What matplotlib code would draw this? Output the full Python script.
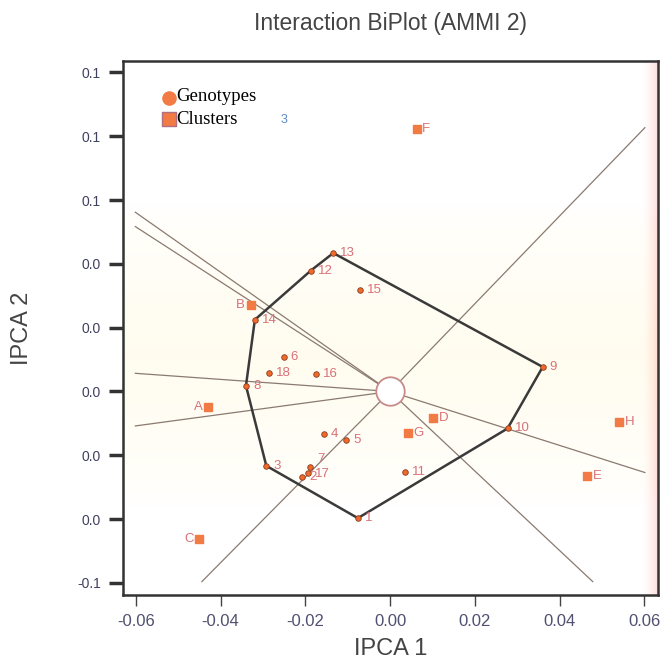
import numpy as np
import matplotlib.pyplot as plt

# genotype scores (IPCA1, IPCA2)
gen_labels = ['1', '2', '3', '4', '5', '6', '7', '8', '9', '10',
              '11', '12', '13', '14', '15', '16', '17', '18']
gen_x = [-0.0076, -0.0208, -0.0292, -0.0156, -0.0103, -0.0251, -0.0189, -0.0340, 0.0360, 0.0277,
         0.0035, -0.0187, -0.0134, -0.0319, -0.0070, -0.0174, -0.0194, -0.0285]
gen_y = [-0.0397, -0.0268, -0.0233, -0.0134, -0.0152, 0.0108, -0.0237, 0.0018, 0.0077, -0.0116,
         -0.0253, 0.0379, 0.0434, 0.0225, 0.0319, 0.0054, -0.0254, 0.0059]

# cluster (environment) scores
clu_labels = ['A', 'B', 'C', 'D', 'E', 'F', 'G', 'H']
clu_x = [-0.0429, -0.0329, -0.0450, 0.0101, 0.0465, 0.0063, 0.0042, 0.0541]
clu_y = [-0.0048, 0.0271, -0.0462, -0.0082, -0.0264, 0.0823, -0.0131, -0.0096]

# convex hull vertices (genotype labels, in order)
hull = ['13', '9', '10', '1', '3', '8', '14', '12', '13']

# ray end points from the origin
ray_x = [0.0601, -0.0444, 0.0478, 0.0601, -0.0601, -0.0601, -0.0601, -0.0601]
ray_y = [0.0827, -0.0596, -0.0596, -0.0254, 0.0562, 0.0517, 0.0057, -0.0108]

xticks = [-0.06, -0.04, -0.02, 0.00, 0.02, 0.04, 0.06]
xtick_labels = ['-0.06', '-0.04', '-0.02', '0.00', '0.02', '0.04', '0.06']
yticks = [-0.06, -0.04, -0.02, 0.00, 0.02, 0.04, 0.06, 0.08, 0.10]
ytick_labels = ['-0.1', '0.0', '0.0', '0.0', '0.0', '0.0', '0.1', '0.1', '0.1']

plt.rcParams['font.family'] = ['Liberation Sans', 'DejaVu Sans']

fig = plt.figure(figsize=(6.6, 6.69), dpi=100)
ax = fig.add_axes([0.1864, 0.1106, 0.8106, 0.7982])
xmin, xmax, ymin, ymax = -0.0630, 0.0632, -0.0638, 0.1036
ax.set_xlim(xmin, xmax)
ax.set_ylim(ymin, ymax)

# soft background shading (cream band and pink right edge)
h, w = 200, 200
rows = np.linspace(1, 0, h)[:, None]
cols = np.linspace(0, 1, w)[None, :]
band = np.clip(1 - np.abs(rows - 0.45) / 0.28, 0, 1) ** 0.6
img = np.ones((h, w, 3))
img[..., 2] -= 0.06 * band
img[..., 1] -= 0.008 * band
edge = np.clip((cols - 0.97) / 0.03, 0, 1) ** 1.8
img[..., 1] -= 0.12 * edge
img[..., 2] -= 0.12 * edge
ax.imshow(np.clip(img, 0, 1), extent=[xmin, xmax, ymin, ymax], aspect='auto', zorder=0)

line_col = '#8a7a70'
for rx, ry in zip(ray_x, ray_y):
    ax.plot([0, rx], [0, ry], color=line_col, lw=0.9, zorder=2)

pos = {l: (x, y) for l, x, y in zip(gen_labels, gen_x, gen_y)}
ax.plot([pos[l][0] for l in hull], [pos[l][1] for l in hull],
        color='#3a3a3a', lw=1.8, zorder=3)

lab_col = '#d9707a'
nudge = {'7': 6, '17': -1}
ax.scatter(gen_x, gen_y, s=16, color='#f06a2a', edgecolor='#8a3a20', lw=0.6, zorder=4)
for l, x, y in zip(gen_labels, gen_x, gen_y):
    ax.annotate(l, (x, y), xytext=(5, nudge.get(l, 0)), textcoords='offset points',
                va='center', ha='left', fontsize=9.5, color=lab_col, zorder=5)

ax.scatter(clu_x, clu_y, s=38, marker='s', color='#f27a45', edgecolor='#f27a45', zorder=4)
for l, x, y in zip(clu_labels, clu_x, clu_y):
    if l in ('A', 'B', 'C'):
        ax.annotate(l, (x, y), xytext=(-4, 0), textcoords='offset points',
                    va='center', ha='right', fontsize=9.5, color=lab_col, zorder=5)
    else:
        ax.annotate(l, (x, y), xytext=(4, 0), textcoords='offset points',
                    va='center', ha='left', fontsize=9.5, color=lab_col, zorder=5)

# origin marker
ax.scatter([0], [0], s=420, color='white', edgecolor='#c98a8a', lw=1.3, zorder=6)

# stray label partly hidden behind legend
ax.text(-0.0258, 0.0851, '3', fontsize=9, color='#5a8ac8', va='center', zorder=5)

# legend
ax.scatter([-0.0522], [0.0919], s=90, color='#f27a45', zorder=7)
ax.scatter([-0.0522], [0.0855], s=95, marker='s', color='#f27a45', edgecolor='#b07080', lw=1, zorder=7)
ax.text(-0.0505, 0.0924, 'Genotypes', family='Liberation Serif', fontsize=13.5, va='center', zorder=7)
ax.text(-0.0505, 0.0853, 'Clusters', family='Liberation Serif', fontsize=13.5, va='center', zorder=7)

for s in ax.spines.values():
    s.set_color('#333333')
    s.set_linewidth(1.8)

ax.set_xticks(xticks)
ax.set_xticklabels(xtick_labels, fontsize=12, color='#505070')
ax.set_yticks(yticks)
ax.set_yticklabels(ytick_labels, fontsize=10, color='#404060')
ax.tick_params(axis='x', length=8, width=1, color='#444444', pad=6)
ax.tick_params(axis='y', length=10, width=2.5, color='#333333', pad=6)

ax.set_title('Interaction BiPlot (AMMI 2)', fontsize=16.5, color='#444444', pad=22)
ax.set_xlabel('IPCA 1', fontsize=17, color='#444444', labelpad=6)
ax.set_ylabel('IPCA 2', fontsize=17, color='#444444', labelpad=32)

fig.savefig('out.png', dpi=100)
